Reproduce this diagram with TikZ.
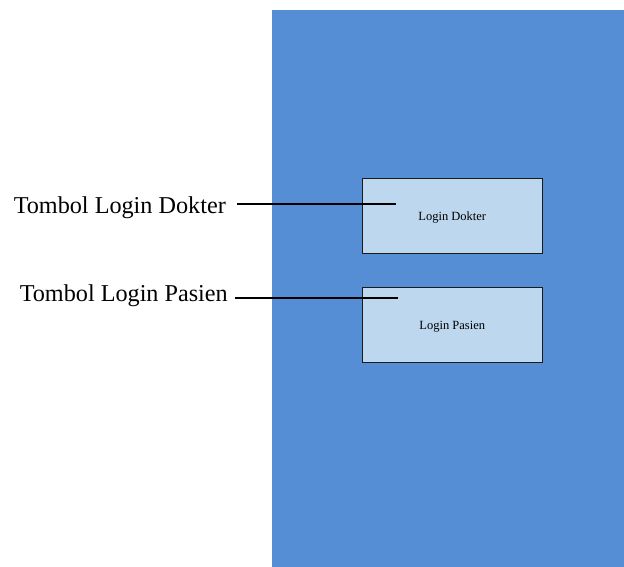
\documentclass[tikz,border=0pt]{standalone}
\usepackage{fontspec}
\setmainfont{Liberation Serif}
\usepackage{tikz}
\usetikzlibrary{positioning}
\definecolor{cbiru}{HTML}{558ED5}
\definecolor{cmuda}{HTML}{BDD7EE}
\definecolor{cgaris}{HTML}{1A1A1A}

\begin{document}
\begin{tikzpicture}[x=1pt,y=-1pt,
  tombol/.style={draw=cgaris, fill=cmuda, line width=0.9pt, minimum width=179.5pt, minimum height=75pt, inner sep=0pt, text height=9pt, text depth=0pt, font=\fontsize{12.5}{15}\selectfont},
  keterangan/.style={anchor=base east, inner ysep=0pt, font=\fontsize{24.2}{29}\selectfont},
  garis/.style={line width=1.4pt, black}]
  \useasboundingbox (0,0) rectangle (624,567);
  % layar aplikasi
  \node[fill=cbiru, minimum width=352pt, minimum height=557pt, inner sep=0pt, outer sep=0pt, anchor=north west] (layar) at (272,10) {};
  \node[tombol] (btnDokter) at (452.25,216) {Login Dokter};
  \node[tombol, below=33pt of btnDokter] (btnPasien) {Login Pasien};
  % keterangan tombol
  \node[keterangan, inner xsep=11pt] (lblDokter) at (237,213) {Tombol Login Dokter};
  \node[keterangan, inner xsep=7pt] (lblPasien) at (235,301) {Tombol Login Pasien};
  \coordinate (tipDokter) at (396,204);
  \coordinate (tipPasien) at (398,298);
  \draw[garis] (lblDokter.east |- tipDokter) -- (tipDokter);
  \draw[garis] (lblPasien.east |- tipPasien) -- (tipPasien);
\end{tikzpicture}
\end{document}
